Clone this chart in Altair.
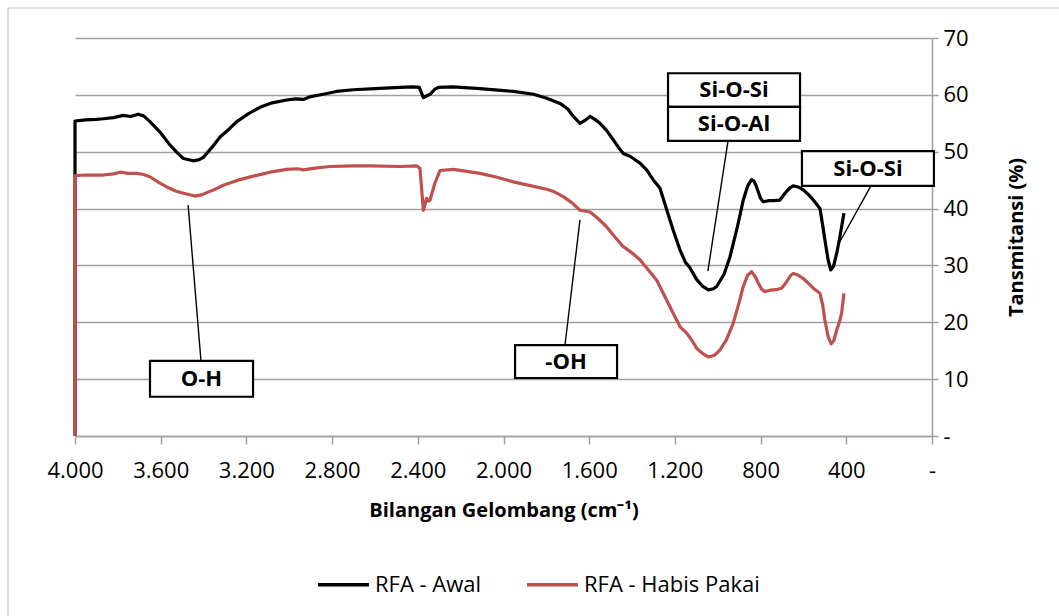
import altair as alt
import pandas as pd

# FTIR spectra: wavenumber (cm-1) and transmittance (%)
wn_awal = [4000, 4000, 3950, 3900, 3868, 3820, 3775, 3740, 3705, 3680, 3650, 3600, 3557, 3520,
           3494, 3448, 3420, 3401, 3360, 3323, 3280, 3245, 3190, 3137, 3080, 3012, 2970, 2934,
           2900, 2841, 2780, 2701, 2600, 2483, 2421, 2393, 2374, 2360, 2343, 2320, 2304, 2234,
           2110, 1954, 1860, 1798, 1736, 1700, 1674, 1643, 1620, 1596, 1570, 1550, 1520, 1488,
           1460, 1441, 1410, 1394, 1363, 1332, 1300, 1270, 1238, 1208, 1176, 1150, 1130, 1098,
           1070, 1044, 1020, 1005, 970, 943, 910, 881, 860, 842, 830, 819, 800, 788, 760, 741,
           710, 686, 665, 648, 625, 601, 575, 554, 523, 510, 500, 485, 473, 460, 445, 430, 411]
t_awal = [0.0, 55.4, 55.6, 55.7, 55.8, 56.0, 56.4, 56.2, 56.6, 56.3, 55.3, 53.3, 51.2, 49.7,
          48.8, 48.4, 48.6, 49.0, 50.8, 52.6, 54.0, 55.3, 56.7, 57.8, 58.6, 59.1, 59.3, 59.2,
          59.7, 60.1, 60.6, 60.9, 61.1, 61.3, 61.4, 61.3, 59.5, 59.8, 60.1, 61.0, 61.3, 61.4,
          61.1, 60.6, 60.1, 59.4, 58.5, 57.5, 56.2, 55.0, 55.5, 56.2, 55.6, 55.0, 53.8, 52.1,
          50.6, 49.7, 49.2, 48.8, 48.0, 46.8, 45.0, 43.6, 39.8, 36.2, 32.7, 30.5, 29.6, 27.5,
          26.3, 25.7, 25.9, 26.3, 28.5, 31.5, 36.5, 41.5, 44.0, 45.1, 44.8, 43.8, 41.8, 41.2,
          41.4, 41.4, 41.5, 42.7, 43.6, 44.0, 43.8, 43.3, 42.4, 41.5, 40.0, 37.0, 34.5, 31.0,
          29.2, 29.8, 32.1, 35.0, 39.2]

wn_habis = [4000, 4000, 3950, 3868, 3820, 3790, 3750, 3712, 3680, 3650, 3610, 3572, 3530, 3494,
            3440, 3410, 3385, 3340, 3308, 3240, 3168, 3090, 3012, 2960, 2934, 2880, 2810, 2700,
            2623, 2483, 2405, 2390, 2374, 2359, 2350, 2343, 2320, 2296, 2234, 2110, 2030, 1954,
            1870, 1798, 1760, 1721, 1680, 1643, 1596, 1560, 1519, 1480, 1441, 1400, 1363, 1320,
            1285, 1270, 1240, 1208, 1176, 1145, 1120, 1098, 1070, 1044, 1015, 990, 960, 928, 900,
            881, 860, 842, 825, 811, 795, 780, 760, 741, 720, 702, 679, 660, 648, 625, 601, 575,
            554, 523, 510, 500, 485, 471, 458, 445, 430, 422, 411]
t_habis = [0.0, 45.8, 45.9, 45.9, 46.1, 46.4, 46.2, 46.2, 46.0, 45.6, 44.6, 43.8, 43.1, 42.7,
           42.2, 42.4, 42.8, 43.5, 44.1, 45.0, 45.7, 46.4, 46.9, 47.0, 46.8, 47.1, 47.4, 47.5,
           47.5, 47.4, 47.5, 47.1, 39.7, 41.8, 41.3, 41.5, 44.5, 46.7, 46.9, 46.2, 45.5, 44.7,
           44.0, 43.4, 42.9, 42.1, 41.0, 39.7, 39.4, 38.3, 36.8, 35.0, 33.3, 32.2, 31.0, 29.0,
           27.4, 26.3, 24.0, 21.6, 19.2, 18.1, 16.8, 15.4, 14.5, 13.9, 14.2, 15.1, 16.9, 19.8, 23.5,
           26.3, 28.3, 28.9, 28.0, 26.9, 25.8, 25.4, 25.6, 25.7, 25.8, 26.0, 27.1, 28.2, 28.6, 28.3,
           27.7, 26.8, 26.0, 25.1, 23.0, 20.4, 17.5, 16.2, 16.8, 18.6, 20.3, 21.6, 25.1]

series = ["RFA - Awal", "RFA - Habis Pakai"]
series_colors = ["#000000", "#C0504D"]

# Band labels: text, box corners (wavenumber / %), text anchor, leader line ends
band_text = ["O-H", "-OH", "Si-O-Si", "Si-O-Al", "Si-O-Si"]
box_x1 = [3650, 1946, 1232, 1232, 607]
box_x2 = [3169, 1470, 616, 616, -9]
box_y1 = [13.2, 16.0, 63.8, 57.9, 50.1]
box_y2 = [6.9, 10.2, 57.9, 51.9, 44.0]
text_x = [3410, 1708, 924, 924, 299]
text_y = [10.0, 13.1, 60.8, 54.9, 47.0]

lead_x1 = [3472, 1643, 952, 285]
lead_y1 = [40.6, 38.0, 51.9, 44.0]
lead_x2 = [3412, 1713, 1046, 434]
lead_y2 = [13.2, 16.0, 29.0, 33.9]

x_ticks = list(range(4000, -1, -400))
y_ticks = list(range(0, 71, 10))

FONT = "Open Sans"
GRID = "#A0A0A0"

df_awal = pd.DataFrame({"wn": wn_awal, "t": t_awal, "seri": series[0],
                        "urut": range(len(wn_awal))})
df_habis = pd.DataFrame({"wn": wn_habis, "t": t_habis, "seri": series[1],
                         "urut": range(len(wn_habis))})
df_box = pd.DataFrame({"wn": box_x1, "x2": box_x2, "t": box_y1, "y2": box_y2})
df_text = pd.DataFrame({"wn": text_x, "t": text_y, "label": band_text})
df_lead = pd.DataFrame({"wn": lead_x1, "t": lead_y1, "x2": lead_x2, "y2": lead_y2})

x_scale = alt.Scale(domain=[0, 4000], reverse=True, nice=False, zero=False)
y_scale = alt.Scale(domain=[0, 70], nice=False)

x_axis = alt.Axis(
    values=x_ticks,
    labelExpr="datum.value == 0 ? '-' : replace(format(datum.value, ','), ',', '.')",
    grid=False, domainColor=GRID, domainWidth=1.5, tickColor=GRID, tickWidth=1.5,
    tickSize=8, labelFont=FONT, labelFontSize=22, labelColor="#000000", labelPadding=16,
    labelFlush=False, labelOverlap=False,
    title="Bilangan Gelombang (cm⁻¹)", titleFont=FONT, titleFontSize=20,
    titleFontWeight="bold", titleColor="#000000", titlePadding=19,
)
y_axis = alt.Axis(
    orient="right", values=y_ticks,
    labelExpr="datum.value == 0 ? '-' : datum.value",
    grid=True, gridColor=GRID, gridWidth=1.5, domainColor=GRID, domainWidth=1.5,
    tickColor=GRID, tickWidth=1.5, tickSize=6, labelFont=FONT, labelFontSize=22,
    labelColor="#000000", labelPadding=5, labelFlush=False,
    title="Tansmitansi (%)", titleFont=FONT, titleFontSize=20, titleFontWeight="bold",
    titleColor="#000000", titleAngle=270, titlePadding=58,
)

X = alt.X("wn:Q", scale=x_scale, axis=x_axis)
Y = alt.Y("t:Q", scale=y_scale, axis=y_axis)

color = alt.Color(
    "seri:N",
    scale=alt.Scale(domain=series, range=series_colors),
    legend=alt.Legend(
        title=None, orient="none", direction="horizontal", legendX=241, legendY=519,
        symbolType="stroke", symbolStrokeWidth=3.5, symbolSize=2600,
        labelFont=FONT, labelFontSize=22, labelColor="#000000", labelOffset=4,
        labelLimit=400, columnPadding=38,
    ),
)

line_awal = alt.Chart(df_awal).mark_line(strokeWidth=3.2, strokeJoin="round").encode(
    x=X, y=Y, color=color, order="urut:Q",
)
line_habis = alt.Chart(df_habis).mark_line(strokeWidth=3.2, strokeJoin="round").encode(
    x=X, y=Y, color=color, order="urut:Q",
)

leaders = alt.Chart(df_lead).mark_rule(color="#000000", strokeWidth=1.4).encode(
    x=X, x2="x2:Q", y=Y, y2="y2:Q",
)
boxes = alt.Chart(df_box).mark_rect(fill="#FFFFFF", stroke="#000000", strokeWidth=2.2).encode(
    x=X, x2="x2:Q", y=Y, y2="y2:Q",
)
labels = alt.Chart(df_text).mark_text(
    font=FONT, fontSize=22, fontWeight="bold", color="#000000", baseline="middle", align="center"
).encode(x=X, y=Y, text="label:N")

# chart-area frame (left and top edges)
frame_left = alt.Chart(df_lead.head(1)).mark_rule(color="#BFBFBF", strokeWidth=1.2).encode(
    x=alt.value(-67), y=alt.value(-30), y2=alt.value(578)
)
frame_top = alt.Chart(df_lead.head(1)).mark_rule(color="#BFBFBF", strokeWidth=1.2).encode(
    x=alt.value(-67), x2=alt.value(984), y=alt.value(-30)
)

chart = alt.layer(
    line_awal, line_habis, leaders, boxes, labels, frame_left, frame_top
).properties(
    width=857, height=398,
    autosize=alt.AutoSizeParams(type="none"),
    padding={"left": 75, "top": 38, "right": 127, "bottom": 180},
    background="#FFFFFF",
).configure_view(stroke=None)

chart.save("out.html", embed_options={"renderer": "svg", "actions": False})
